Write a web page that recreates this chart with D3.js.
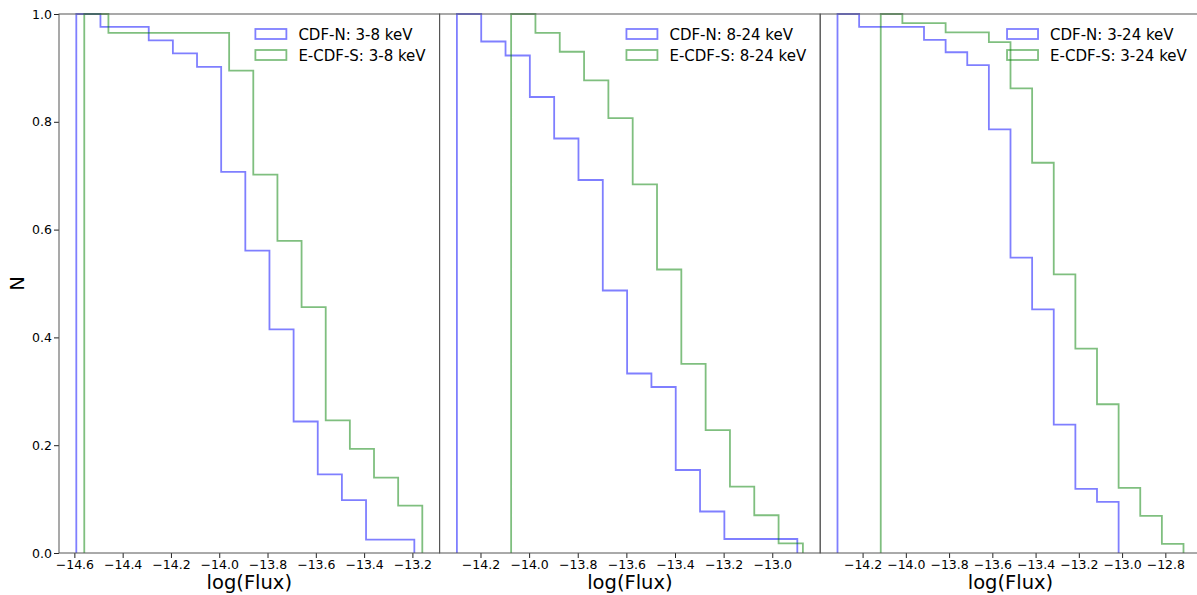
<!DOCTYPE html>
<html>
<head>
<meta charset="utf-8">
<script src="https://cdn.jsdelivr.net/npm/d3@7"></script>
<style>
  body { margin: 0; background: #fff; }
  svg { display: block; font-family: "DejaVu Sans", sans-serif; }
</style>
</head>
<body>
<div class="container"></div>
<script>
// bin width of all histograms (log flux)
const binWidth = 0.1

// panel 1: 3-8 keV
const n38Start = -14.592
const n38Values = [1.000, 0.976, 0.976, 0.951, 0.927, 0.902, 0.707, 0.561, 0.415, 0.244, 0.146, 0.098, 0.025, 0.025]
const s38Start = -14.559
const s38Values = [1.000, 0.965, 0.965, 0.965, 0.965, 0.965, 0.895, 0.702, 0.579, 0.456, 0.246, 0.193, 0.140, 0.088]

// panel 2: 8-24 keV
const n824Start = -14.297
const n824Values = [1.000, 0.949, 0.923, 0.846, 0.769, 0.692, 0.487, 0.333, 0.308, 0.154, 0.077, 0.026, 0.026, 0.026]
const s824Start = -14.074
const s824Values = [1.000, 0.965, 0.930, 0.877, 0.807, 0.684, 0.526, 0.351, 0.228, 0.123, 0.070, 0.018]

// panel 3: 3-24 keV
const n324Start = -14.316
const n324Values = [1.000, 0.976, 0.976, 0.976, 0.952, 0.929, 0.905, 0.786, 0.548, 0.452, 0.238, 0.119, 0.095]
const s324Start = -14.116
const s324Values = [1.000, 0.983, 0.983, 0.966, 0.966, 0.948, 0.862, 0.724, 0.517, 0.379, 0.276, 0.121, 0.069, 0.017]

const xTicks1 = [-14.6, -14.4, -14.2, -14.0, -13.8, -13.6, -13.4, -13.2]
const xTicks2 = [-14.2, -14.0, -13.8, -13.6, -13.4, -13.2, -13.0]
const xTicks3 = [-14.2, -14.0, -13.8, -13.6, -13.4, -13.2, -13.0, -12.8]
const yTicks = [0, 0.2, 0.4, 0.6, 0.8, 1.0]

const bands = ["3-8 keV", "8-24 keV", "3-24 keV"]
const seriesNames = ["CDF-N", "E-CDF-S"]

const panels = [
    { band: bands[0], ticks: xTicks1, series: [[n38Start, n38Values], [s38Start, s38Values]] },
    { band: bands[1], ticks: xTicks2, series: [[n824Start, n824Values], [s824Start, s824Values]] },
    { band: bands[2], ticks: xTicks3, series: [[n324Start, n324Values], [s324Start, s324Values]] }
]

const colors = ["rgba(0,0,255,0.5)", "rgba(0,128,0,0.5)"]

const w = 1197
const h = 595
const padLeft = 59
const padTop = 14
const plotBottom = 553
const panelW = 380.6

const svg = d3.select(".container")
    .append("svg")
    .attr("width", w)
    .attr("height", h)

const yScale = d3.scaleLinear().domain([0, 1]).range([plotBottom, padTop])

const fmt = d3.format(".1f")

panels.forEach((p, i) => {
    const x0 = padLeft + i * panelW
    const x1 = x0 + panelW

    // bin edges of every series
    const hists = p.series.map(([start, vals]) => {
        const edges = vals.map((v, k) => start + k * binWidth)
        edges.push(start + vals.length * binWidth)
        return { edges: edges, vals: vals }
    })

    const lo = d3.min(hists, d => d.edges[0])
    const hi = d3.max(hists, d => d.edges[d.edges.length - 1])
    const pad = (hi - lo) * 0.05
    const xScale = d3.scaleLinear().domain([lo - pad, hi + pad]).range([x0, x1])

    const g = svg.append("g")

    // step outlines
    hists.forEach((hs, j) => {
        const pts = [[hs.edges[0], 0]]
        hs.vals.forEach((v, k) => {
            pts.push([hs.edges[k], v])
            pts.push([hs.edges[k + 1], v])
        })
        pts.push([hs.edges[hs.edges.length - 1], 0])
        g.append("path")
            .attr("d", d3.line().x(d => xScale(d[0])).y(d => yScale(d[1]))(pts))
            .attr("fill", "none")
            .attr("stroke", colors[j])
            .attr("stroke-width", 1.8)
    })

    // x axis
    const xAxis = d3.axisBottom(xScale).tickValues(p.ticks).tickFormat(fmt).tickSize(5).tickPadding(2)
    const ax = g.append("g")
        .attr("transform", "translate(0," + plotBottom + ")")
        .call(xAxis)
    ax.select(".domain").remove()
    ax.selectAll("line").attr("stroke", "#222")
    ax.selectAll("text").attr("font-size", 12.5).attr("fill", "#000").attr("font-family", "DejaVu Sans")

    if (i === 0) {
        const yAxis = d3.axisLeft(yScale).tickValues(yTicks).tickFormat(fmt).tickSize(5).tickPadding(2)
        const ay = g.append("g")
            .attr("transform", "translate(" + x0 + ",0)")
            .call(yAxis)
        ay.select(".domain").remove()
        ay.selectAll("line").attr("stroke", "#222")
        ay.selectAll("text").attr("font-size", 12.5).attr("fill", "#000").attr("font-family", "DejaVu Sans")
    }

    // frame
    g.append("rect")
        .attr("x", x0)
        .attr("y", padTop)
        .attr("width", panelW)
        .attr("height", plotBottom - padTop)
        .attr("fill", "none")
        .attr("stroke", "#555")
        .attr("stroke-width", 1)

    g.append("text")
        .attr("x", (x0 + x1) / 2)
        .attr("y", 589)
        .attr("text-anchor", "middle")
        .attr("font-size", 19.5)
        .text("log(Flux)")

    // legend, upper right, no frame
    const leg = g.append("g")
    const labels = seriesNames.map((s, j) => leg.append("text")
        .attr("y", 39.5 + j * 21)
        .attr("font-size", 15)
        .attr("fill", "#000")
        .text(s + ": " + p.band))
    const maxW = d3.max(labels, t => t.node().getComputedTextLength())
    const tx = x1 - 14 - maxW
    labels.forEach((t, j) => {
        t.attr("x", tx)
        leg.append("rect")
            .attr("x", tx - 43)
            .attr("y", 29 + j * 21)
            .attr("width", 31)
            .attr("height", 10)
            .attr("fill", "none")
            .attr("stroke", colors[j])
            .attr("stroke-width", 1.8)
    })
})

svg.append("text")
    .attr("transform", "translate(24," + ((padTop + plotBottom) / 2) + ") rotate(-90)")
    .attr("text-anchor", "middle")
    .attr("font-size", 19.5)
    .text("N")
</script>
</body>
</html>
